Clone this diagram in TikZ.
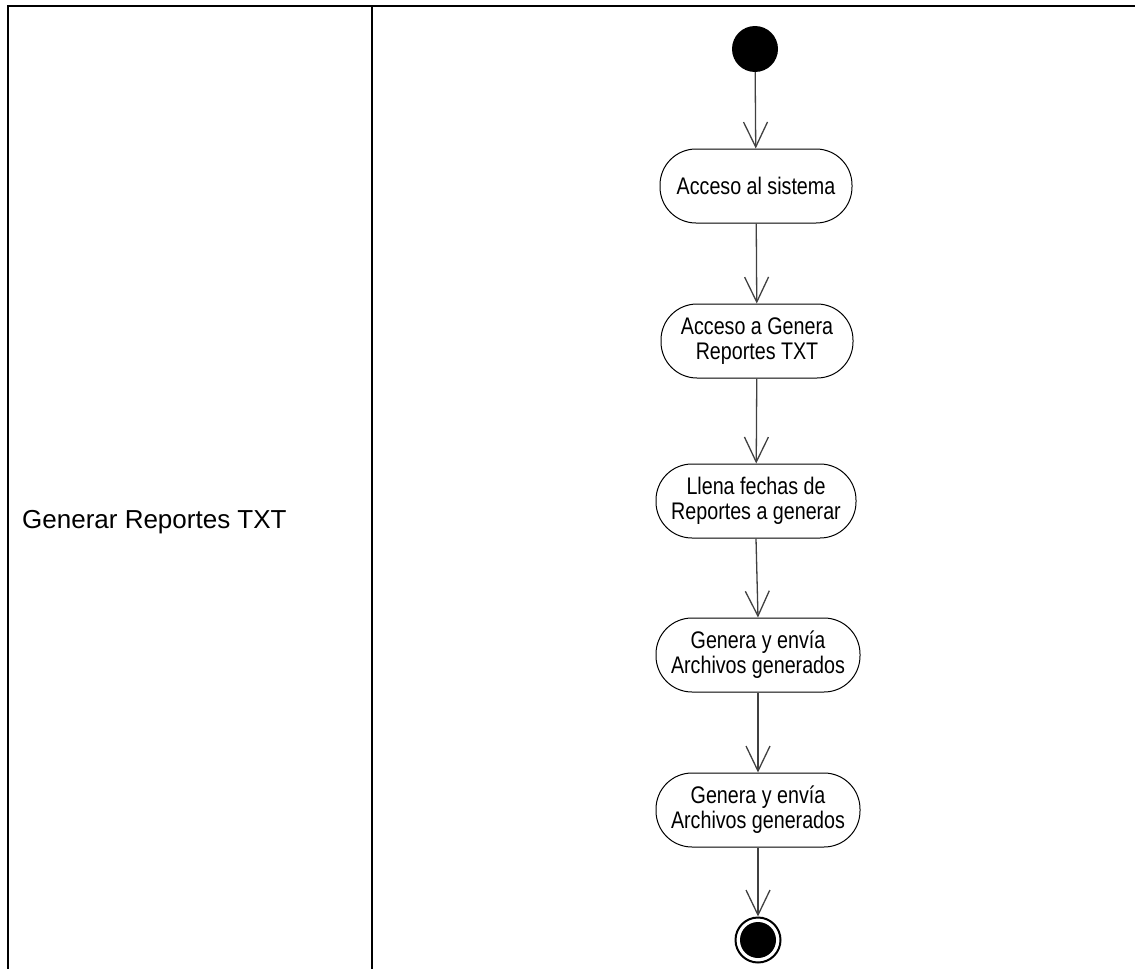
\documentclass[tikz,border=0pt]{standalone}
\usepackage{fontspec}
\setmainfont{Liberation Sans}
\newfontfamily\narrowfont[FakeStretch=0.82]{Liberation Sans}
\usetikzlibrary{arrows.meta}
\begin{document}
\begin{tikzpicture}[x=1pt,y=-1pt,
  frame/.style={line width=2pt,black},
  activity/.style={draw=black,line width=1pt,rounded corners=36pt,minimum height=74pt,
    inner sep=0pt,align=center,font=\narrowfont\fontsize{24}{25}\selectfont},
  conn/.style={draw=black!75,line width=1.3pt,-{Straight Barb[length=25pt,width=24pt,line width=1.3pt]}},
  startnode/.style={circle,fill=black,minimum size=46pt,inner sep=0pt},
  endnode/.style={circle,draw=black,line width=2pt,fill=white,minimum size=45pt,inner sep=0pt}]
\useasboundingbox (0,0) rectangle (1135,969);
% swimlane frame
\draw[frame] (8,969) -- (8,6) -- (1135,6);
\draw[frame] (372,6) -- (372,969);
\node[anchor=west,inner sep=0pt,font=\fontsize{26}{30}\selectfont] (lane) at (22,522) {Generar Reportes TXT};
% activity flow
\node[startnode] (s) at (755,49) {};
\node[activity,minimum width=192pt] (a1) at (756,186) {Acceso al sistema};
\node[activity,minimum width=192pt] (a2) at (757,341) {Acceso a Genera\\Reportes TXT};
\node[activity,minimum width=200pt] (a3) at (756,501) {Llena fechas de\\Reportes a generar};
\node[activity,minimum width=204pt] (a4) at (758,655) {Genera y envía\\Archivos generados};
\node[activity,minimum width=204pt] (a5) at (758,810) {Genera y envía\\Archivos generados};
\node[endnode] (e) at (758,940) {};
\fill[black] (e.center) circle (18pt);
\draw[conn] (s) -- (a1);
\draw[conn] (a1) -- (a2);
\draw[conn] (a2) -- (a3);
\draw[conn] (a3.south) -- (a4.north);
\draw[conn] (a4) -- (a5);
\draw[conn] (a5) -- (e);
\end{tikzpicture}
\end{document}
